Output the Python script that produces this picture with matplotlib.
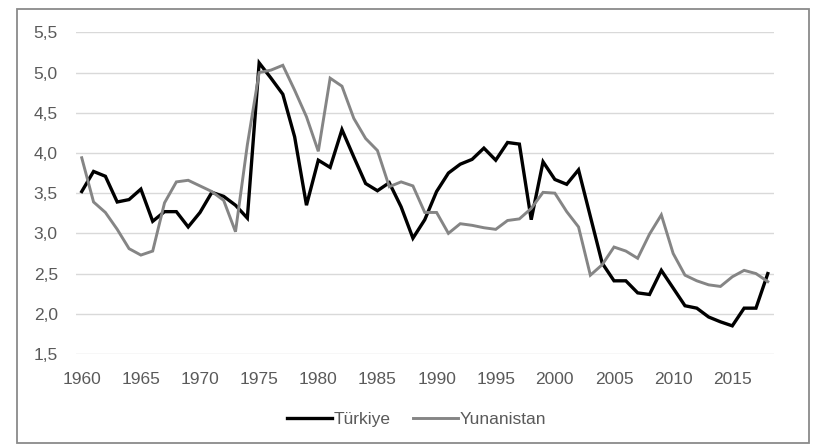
import matplotlib
matplotlib.use("Agg")
import matplotlib.pyplot as plt
from matplotlib.patches import Rectangle
import numpy as np

years = list(range(1960, 2019))

turkiye = [3.52, 3.77, 3.71, 3.39, 3.42, 3.55, 3.15, 3.27, 3.27, 3.08,
           3.26, 3.51, 3.46, 3.35, 3.19, 5.12, 4.93, 4.73, 4.20, 3.35,
           3.91, 3.82, 4.29, 3.95, 3.62, 3.53, 3.63, 3.33, 2.94, 3.17,
           3.52, 3.75, 3.86, 3.92, 4.06, 3.91, 4.13, 4.11, 3.17, 3.89,
           3.67, 3.61, 3.79, 3.21, 2.63, 2.41, 2.41, 2.26, 2.24, 2.54,
           2.32, 2.10, 2.07, 1.96, 1.90, 1.85, 2.07, 2.07, 2.50]

yunanistan = [3.94, 3.39, 3.26, 3.05, 2.81, 2.73, 2.78, 3.38, 3.64, 3.66,
              3.59, 3.52, 3.41, 3.02, 4.10, 5.00, 5.03, 5.09, 4.78, 4.45,
              4.02, 4.93, 4.83, 4.43, 4.18, 4.03, 3.58, 3.64, 3.59, 3.26,
              3.26, 3.00, 3.12, 3.10, 3.07, 3.05, 3.16, 3.18, 3.31, 3.51,
              3.50, 3.27, 3.08, 2.48, 2.61, 2.83, 2.78, 2.69, 2.99, 3.23,
              2.75, 2.48, 2.41, 2.36, 2.34, 2.46, 2.54, 2.50, 2.40]

y_ticks = [1.5, 2.0, 2.5, 3.0, 3.5, 4.0, 4.5, 5.0, 5.5]
x_ticks = list(range(1960, 2019, 5))

plt.rcParams['font.family'] = ['Liberation Sans Narrow', 'Liberation Sans', 'DejaVu Sans']
label_color = '#5a5a5a'

fig = plt.figure(figsize=(8.17, 4.45), dpi=100)
ax = fig.add_axes([0.0928, 0.2045, 0.8542, 0.7229])

ax.plot(years, turkiye, color='black', lw=2.4, label='Türkiye', solid_joinstyle='miter')
ax.plot(years, yunanistan, color='#858585', lw=2.1, label='Yunanistan', solid_joinstyle='miter')

ax.set_xlim(1959.5, 2018.5)
ax.set_ylim(1.5, 5.5)
ax.set_yticks(y_ticks)
ax.set_yticklabels([f"{v:.1f}".replace('.', ',') for v in y_ticks])
ax.set_xticks(x_ticks)
ax.set_xticklabels([str(x) for x in x_ticks])
ax.grid(axis='y', color='#d9d9d9', lw=1.0)
ax.set_axisbelow(True)
for s in ax.spines.values():
    s.set_visible(False)
ax.tick_params(axis='both', length=0, labelsize=12.5, colors=label_color)
ax.tick_params(axis='y', pad=13)
ax.tick_params(axis='x', pad=13)

leg = fig.legend(loc='center', bbox_to_anchor=(0.51, 0.057), ncol=2, frameon=False,
                 fontsize=12.5, handlelength=2.6, handletextpad=0.1, columnspacing=1.3)
for t in leg.get_texts():
    t.set_color(label_color)

# outer chart frame
fig.patches.append(Rectangle((17 / 817, 1 - 443 / 445), (809 - 17) / 817, (443 - 9) / 445,
                             transform=fig.transFigure, fill=False,
                             edgecolor='#8a8a8a', lw=1.3))

fig.savefig('out.png', dpi=100)
